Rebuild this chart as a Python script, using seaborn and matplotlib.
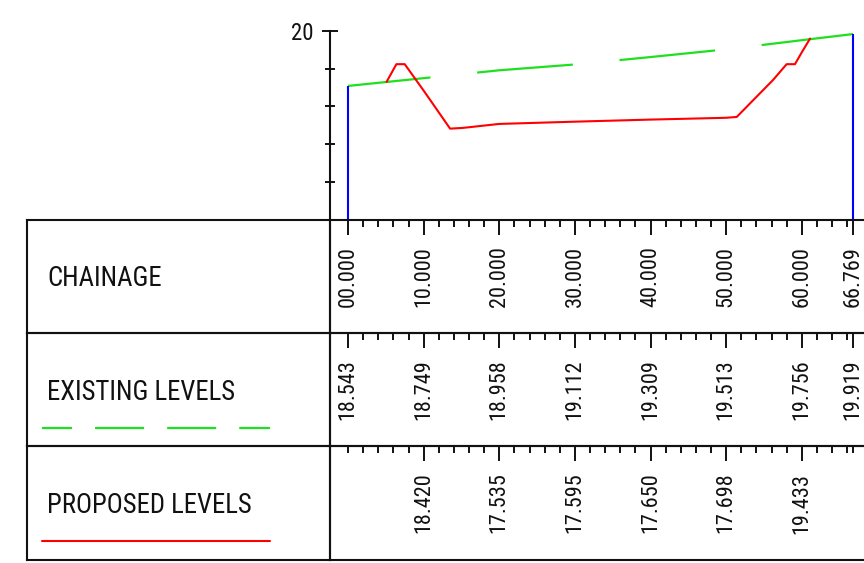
import matplotlib
matplotlib.use('Agg')
import pandas as pd
import matplotlib.pyplot as plt
import matplotlib.transforms as mtransforms
from matplotlib.ticker import FixedLocator
import seaborn as sns

# Stations along the section and the values printed in the table
chainage = [0, 10, 20, 30, 40, 50, 60, 66.769]
chainage_labels = ['00.000', '10.000', '20.000', '30.000',
                   '40.000', '50.000', '60.000', '66.769']
existing_levels = [18.543, 18.749, 18.958, 19.112, 19.309, 19.513, 19.756, 19.919]
existing_labels = ['18.543', '18.749', '18.958', '19.112',
                   '19.309', '19.513', '19.756', '19.919']
proposed_stations = [10, 20, 30, 40, 50, 60]
proposed_labels = ['18.420', '17.535', '17.595', '17.650', '17.698', '19.433']

# Proposed profile vertices
proposed_x = [5.1, 6.4, 7.5, 10.0, 13.5, 15.2, 20.0, 30.0, 40.0, 50.0,
              51.4, 56.2, 58.0, 59.1, 60.0, 61.1]
proposed_y = [18.65, 19.12, 19.12, 18.420, 17.41, 17.43, 17.535, 17.595,
              17.650, 17.698, 17.72, 18.70, 19.12, 19.12, 19.433, 19.80]

row_titles = ['CHAINAGE', 'EXISTING LEVELS', 'PROPOSED LEVELS']

GREEN = '#1fe01f'
RED = '#ff0000'
BLUE = '#0000ff'
INK = '#111111'
FS_TICK = 16
FS_TITLE = 19.3

W, H = 864, 563
XLIM = (-2.38, 68.23)


def box(x0, y0, x1, y1):
    """Pixel box -> figure fraction rect"""
    return [x0 / W, 1 - y1 / H, (x1 - x0) / W, (y1 - y0) / H]


sns.set_style('white')
plt.rcParams['font.family'] = ['Liberation Sans Narrow', 'Roboto Condensed',
                               'Liberation Sans', 'DejaVu Sans']
plt.rcParams['lines.scale_dashes'] = False

fig = plt.figure(figsize=(8.64, 5.63), dpi=100)

# Long section
ax = fig.add_axes(box(330, 31, 864, 219.5))
ax.patch.set_alpha(0)
df_exist = pd.DataFrame({'chainage': chainage, 'level': existing_levels})
df_prop = pd.DataFrame({'chainage': proposed_x, 'level': proposed_y})

sns.lineplot(data=df_exist, x='chainage', y='level', color=GREEN, linewidth=1.6,
             sort=False, estimator=None, ax=ax)
ax.lines[-1].set_linestyle((9.4, (69.1, 33.8)))
sns.lineplot(data=df_prop, x='chainage', y='level', color=RED, linewidth=1.5,
             sort=False, estimator=None, ax=ax)
ax.vlines([chainage[0], chainage[-1]], 15, [existing_levels[0], existing_levels[-1]],
          color=BLUE, linewidth=1.5)

ax.set_xlim(*XLIM)
ax.set_ylim(15, 20)
ax.set_xlabel('')
ax.set_ylabel('')
ax.set_xticks([])
for side in ['top', 'right', 'bottom']:
    ax.spines[side].set_visible(False)
ax.spines['left'].set_color(INK)
ax.spines['left'].set_linewidth(1.5)
ax.yaxis.set_major_locator(FixedLocator([20]))
ax.yaxis.set_minor_locator(FixedLocator([16, 17, 18, 19]))
ax.tick_params(axis='y', which='major', left=True, direction='inout', length=11.5,
               width=1.4, pad=6.0, labelsize=FS_TICK + 0.5, color=INK, labelcolor=INK)
ax.tick_params(axis='y', which='minor', left=True, direction='inout', length=6.5,
               width=1.4, color=INK)

# Table rows
rows = [(219.5, 333), (333, 446), (446, 560)]
row_values = [(chainage, chainage_labels),
              (chainage, existing_labels),
              (proposed_stations, proposed_labels)]
minor_stations = [c for c in range(0, 67, 2) if c % 10 != 0]

for i, (top, bot) in enumerate(rows):
    lab_ax = fig.add_axes(box(27, top, 330, bot))
    lab_ax.set_xticks([])
    lab_ax.set_yticks([])
    lab_ax.patch.set_alpha(0)
    for s in lab_ax.spines.values():
        s.set_visible(True)
        s.set_color(INK)
        s.set_linewidth(1.5)
    lab_ax.text(0.066, 0.41, row_titles[i], ha='left', va='baseline',
                fontsize=FS_TITLE, color=INK, transform=lab_ax.transAxes)

    val_ax = fig.add_axes(box(330, top, 864, bot))
    val_ax.patch.set_alpha(0)
    val_ax.set_xlim(*XLIM)
    val_ax.set_ylim(0, 1)
    val_ax.set_yticks([])
    val_ax.spines['right'].set_visible(False)
    for side in ['top', 'bottom', 'left']:
        val_ax.spines[side].set_visible(True)
        val_ax.spines[side].set_color(INK)
        val_ax.spines[side].set_linewidth(1.5)

    stations, labels = row_values[i]
    if i == 2:
        majors = proposed_stations
        minors = minor_stations + [0, chainage[-1]]
    else:
        majors = chainage
        minors = minor_stations
    val_ax.xaxis.set_major_locator(FixedLocator(majors))
    val_ax.xaxis.set_minor_locator(FixedLocator(minors))
    val_ax.tick_params(axis='x', which='both', top=True, bottom=False,
                       labeltop=False, labelbottom=False, direction='in',
                       width=1.4, color=INK)
    val_ax.tick_params(axis='x', which='major', length=10.8)
    val_ax.tick_params(axis='x', which='minor', length=5.0)

    trans = mtransforms.blended_transform_factory(val_ax.transData, val_ax.transAxes)
    for st, lab in zip(stations, labels):
        val_ax.text(st, 0.5, lab, rotation=90, ha='center', va='center',
                    fontsize=FS_TICK, color=INK, transform=trans)

    if i == 1:
        lab_ax.plot([0.0495, 0.802], [0.159, 0.159], color=GREEN, linewidth=1.6,
                    linestyle=(13.7, (35.3, 16.6)), transform=lab_ax.transAxes)
    if i == 2:
        lab_ax.plot([0.0495, 0.802], [0.167, 0.167], color=RED, linewidth=1.5,
                    transform=lab_ax.transAxes)

plt.savefig('out.png', dpi=100)
